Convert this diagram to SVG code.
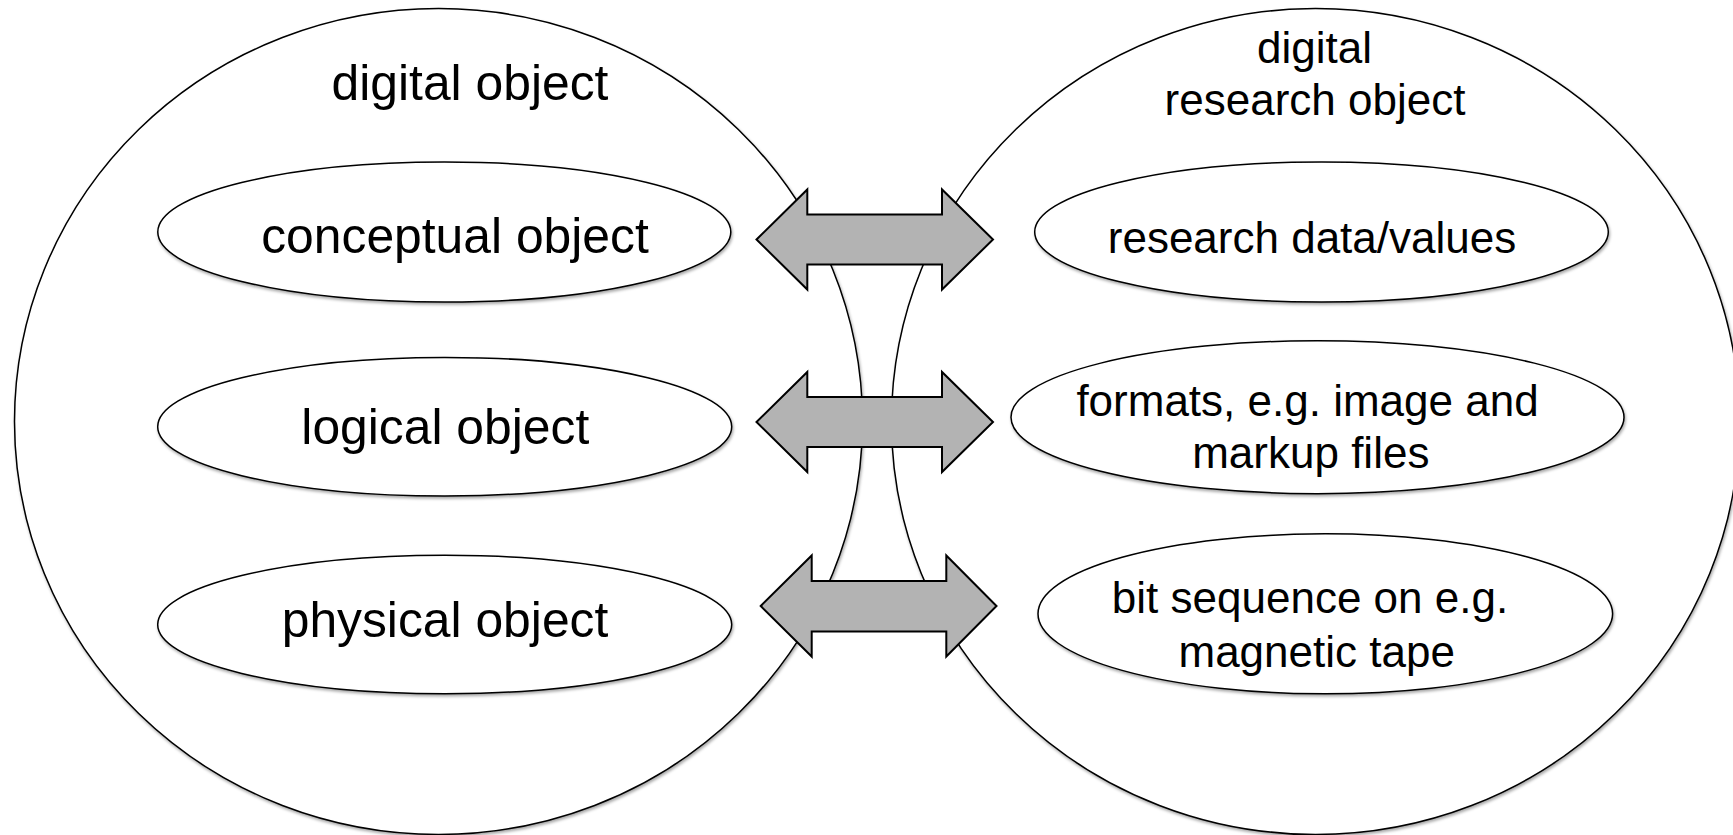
<svg xmlns="http://www.w3.org/2000/svg" width="1733" height="835" viewBox="0 0 1733 835">
  <defs>
    <filter id="sh" x="-5%" y="-5%" width="110%" height="115%">
      <feDropShadow dx="1" dy="2" stdDeviation="1.5" flood-color="#000" flood-opacity="0.35"/>
    </filter>
    <style>
      .big { fill: #ffffff; stroke: #000; stroke-width: 1.5; filter: url(#sh); }
      .node { fill: #ffffff; stroke: #000; stroke-width: 1.5; filter: url(#sh); }
      .arrow { fill: #b3b3b3; stroke: #000; stroke-width: 2; stroke-linejoin: miter; }
      text { font-family: "Liberation Sans", Arial, Helvetica, sans-serif; fill: #000; text-anchor: middle; }
      .tl { font-size: 49.8px; }
      .tr { font-size: 44px; }
    </style>
  </defs>
  <rect width="1733" height="835" fill="#ffffff"/>

  <g id="digital-object">
    <ellipse class="big" cx="438.5" cy="421.5" rx="424" ry="413"/>
    <text class="tl" x="470" y="100">digital object</text>
  </g>
  <g id="digital-research-object">
    <ellipse class="big" cx="1315.5" cy="421.5" rx="424" ry="413"/>
    <text class="tr" x="1314.5" y="62.5">digital</text>
    <text class="tr" x="1315" y="115">research object</text>
  </g>

  <g id="conceptual-object">
    <ellipse class="node" cx="444.3" cy="232" rx="286.5" ry="70"/>
    <text class="tl" x="455" y="253.3">conceptual object</text>
  </g>
  <g id="logical-object">
    <ellipse class="node" cx="444.7" cy="426.7" rx="287" ry="69.3"/>
    <text class="tl" x="445.3" y="443.7">logical object</text>
  </g>
  <g id="physical-object">
    <ellipse class="node" cx="444.7" cy="624.5" rx="287" ry="69.2"/>
    <text class="tl" x="445" y="637">physical object</text>
  </g>

  <g id="research-data">
    <ellipse class="node" cx="1321.5" cy="232" rx="286.8" ry="70"/>
    <text class="tr" x="1312" y="253.3">research data/values</text>
  </g>
  <g id="formats">
    <ellipse class="node" cx="1317.5" cy="417.2" rx="306.5" ry="76.5"/>
    <text class="tr" x="1307.5" y="416">formats, e.g. image and</text>
    <text class="tr" x="1310.8" y="468.3">markup files</text>
  </g>
  <g id="bit-sequence">
    <ellipse class="node" cx="1325.3" cy="613.8" rx="287.3" ry="80"/>
    <text class="tr" x="1310" y="613.3">bit sequence on e.g.</text>
    <text class="tr" x="1316.7" y="666.5">magnetic tape</text>
  </g>

  <g id="connectors">
    <polygon class="arrow" points="756.5,239.5 807.3,189.5 807.3,214.5 942,214.5 942,189.5 993,239.5 942,289.5 942,264.5 807.3,264.5 807.3,289.5"/>
    <polygon class="arrow" points="756.5,422 807.3,372 807.3,397 942,397 942,372 993,422 942,472 942,447 807.3,447 807.3,472"/>
    <polygon class="arrow" points="760.7,606 811.7,555.5 811.7,581 946.3,581 946.3,555.5 996.5,606 946.3,656.5 946.3,631.5 811.7,631.5 811.7,656.5"/>
  </g>
</svg>
